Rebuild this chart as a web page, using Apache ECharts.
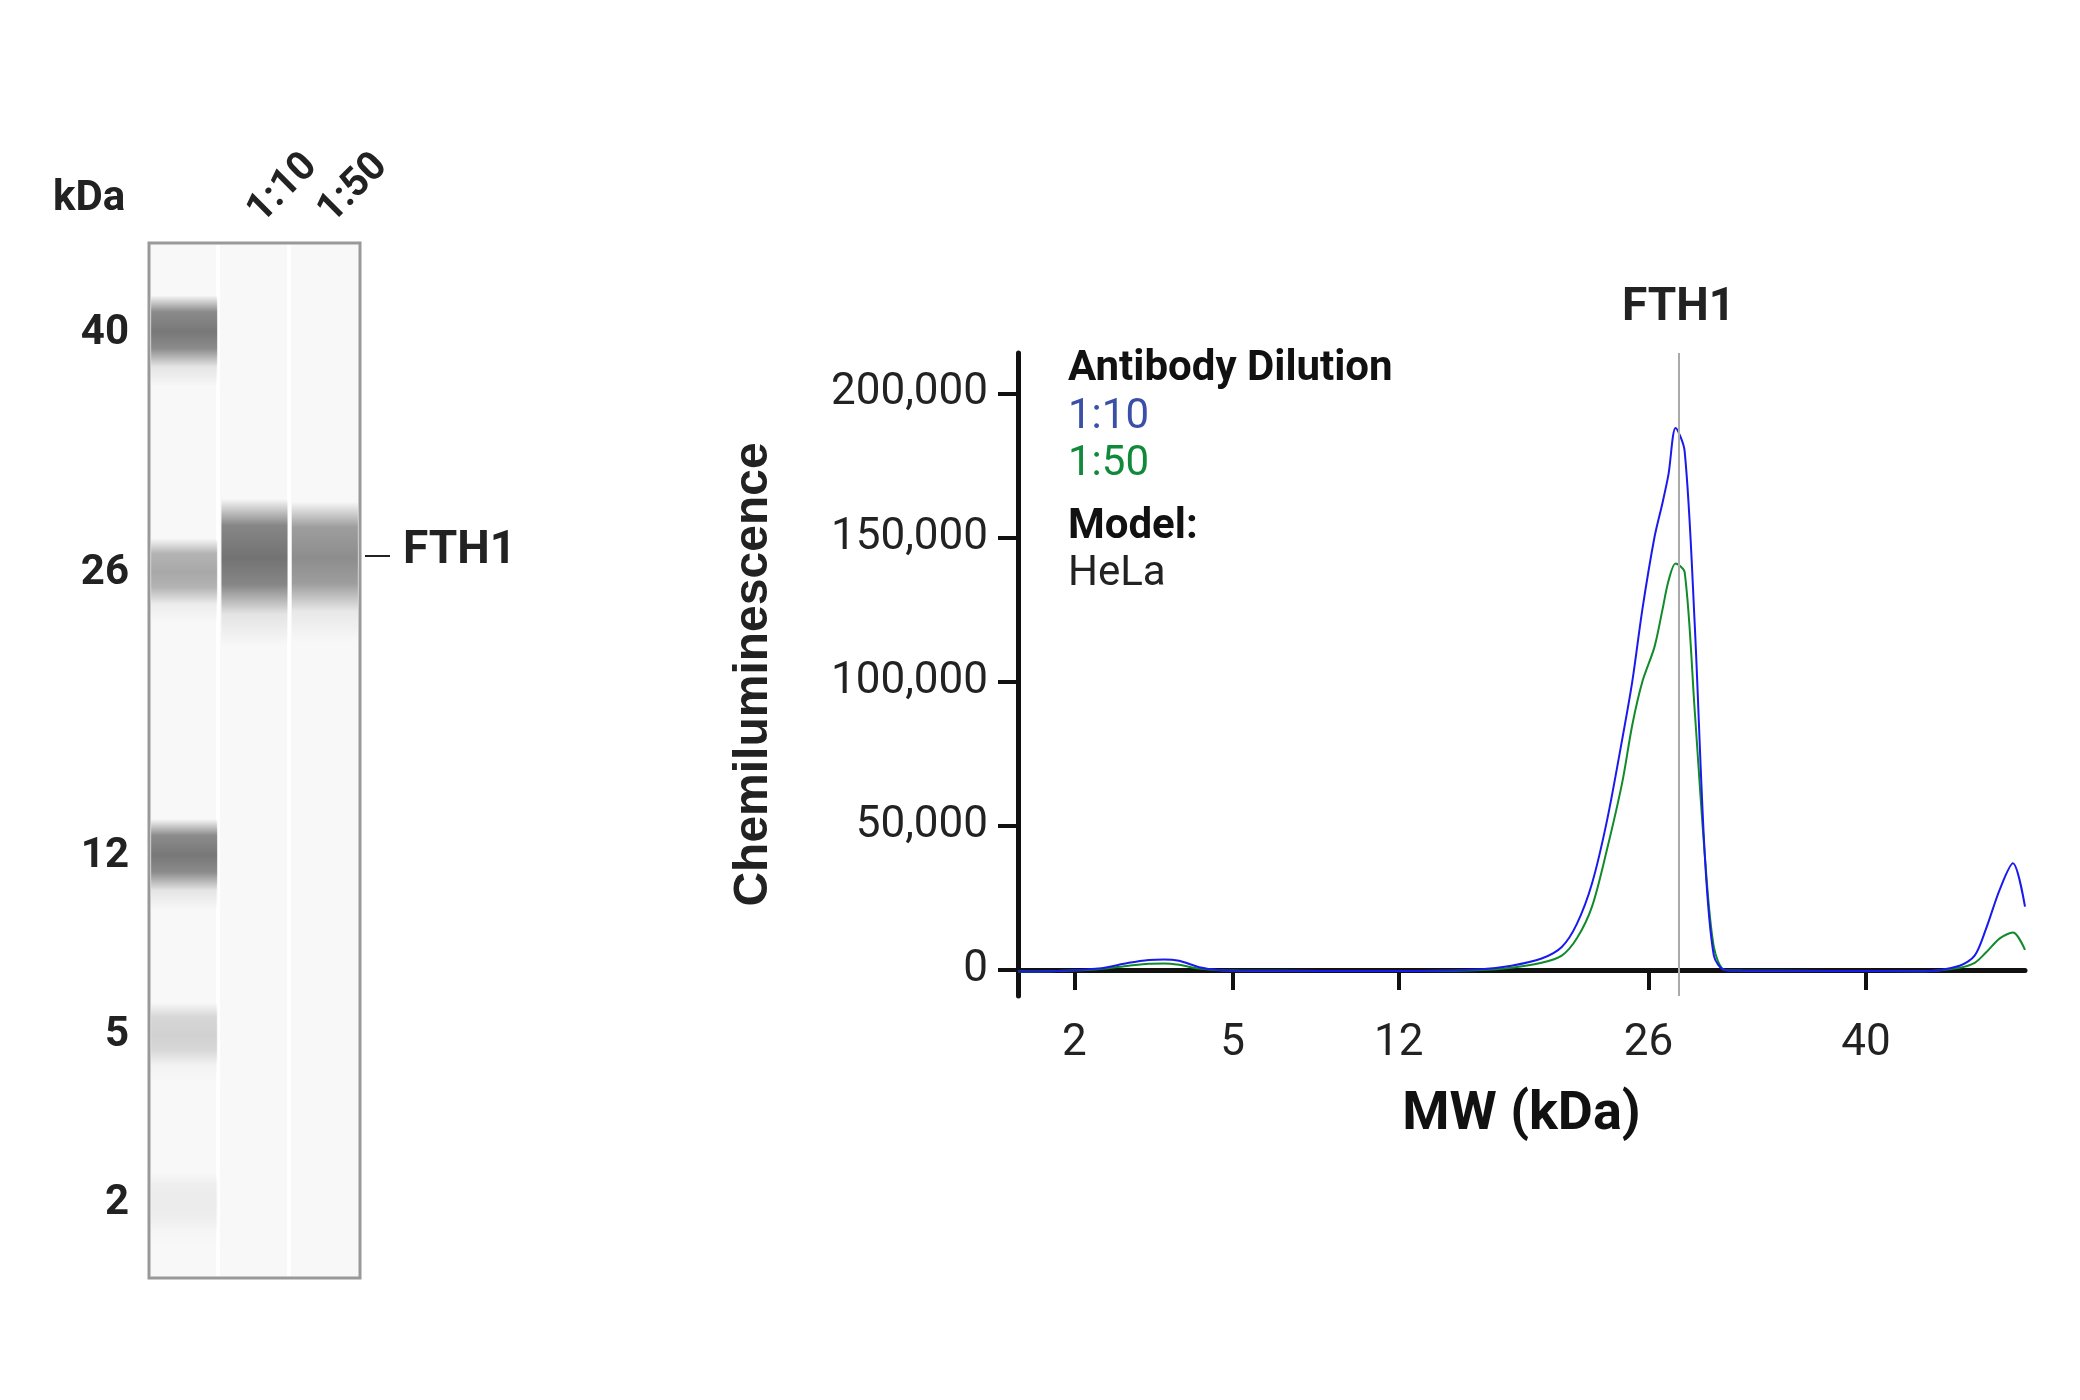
<!DOCTYPE html>
<html><head><meta charset="utf-8">
<script src="https://cdn.jsdelivr.net/npm/echarts@6/dist/echarts.min.js"></script>
<style>html,body{margin:0;background:#fff}#c{width:2080px;height:1400px}</style>
</head><body><div id="c"></div>
<script>
// Electropherogram: x in migration-position units (0..100), y chemiluminescence
const mwTickPos = [5.6, 21.3, 37.8, 62.6, 84.2];
const mwTickLabels = ['2', '5', '12', '26', '40'];
const yTicks = [0, 50000, 100000, 150000, 200000];
const posX = [0, 4, 8, 11, 13, 14.5, 16, 18, 20, 22, 30, 40, 46, 49, 52, 54, 55.5, 57, 58.5, 60, 61, 62, 63.2, 64, 64.6, 65.3, 66.2, 67.2, 68.2, 69.1, 70.2, 72, 80, 90, 93.5, 95, 96.1, 97.5, 98.8, 100];
const dil110 = [-500, -300, 500, 2500, 3500, 3700, 3200, 1000, 0, -200, -300, -300, 300, 1500, 4000, 8000, 16000, 30000, 52000, 80000, 100000, 125000, 150000, 162000, 172000, 188000, 180000, 120000, 40000, 5000, 0, -200, -300, -400, 1500, 5000, 14000, 28000, 37000, 22000];
const dil150 = [-500, -300, 300, 1500, 2200, 2300, 1800, 500, -100, -200, -300, -300, 0, 800, 2500, 5000, 11000, 22000, 42000, 65000, 85000, 100000, 112000, 125000, 135000, 141000, 138000, 90000, 40000, 8000, 0, -200, -300, -400, 800, 2500, 6000, 11000, 13000, 7000];
const peakPos = 65.6;
// Gel image: lanes and bands
const laneLabels = ['', '1:10', '1:50'];
const ladderKDa = ['40', '26', '12', '5', '2'];
const ladderPos = [8.7, 31.9, 59.3, 76.6, 92.8];
const ladderIntensity = [0.72, 0.45, 0.72, 0.22, 0.07];
const ladderHalf = [2.6, 2.4, 2.6, 2.3, 2.2];
const sampleLanes = [1, 2];
const samplePos = [30.6, 30.6];
const sampleHalf = [4.2, 4.0];
const sampleIntensity = [0.75, 0.6];

const bands = [];
ladderPos.forEach((p, i) => bands.push([0, p, ladderHalf[i], ladderIntensity[i]]));
sampleLanes.forEach((l, i) => bands.push([l, samplePos[i], sampleHalf[i], sampleIntensity[i]]));

const F = "'Liberation Sans Narrow','Roboto','Liberation Sans',sans-serif";
const chart = echarts.init(document.getElementById('c'));
chart.setOption({
  backgroundColor: '#fff',
  animation: false,
  grid: [
    {left: 1018, width: 1007, top: 353, height: 643},
    {left: 149, width: 211, top: 243, height: 1035}
  ],
  xAxis: [
    {gridIndex: 0, type: 'value', min: 0, max: 100,
     name: 'MW (kDa)', nameLocation: 'middle', nameGap: 92,
     nameTextStyle: {fontFamily: F, fontWeight: 'bold', fontSize: 54, color: '#111'},
     axisLine: {lineStyle: {color: '#111', width: 5}},
     axisTick: {customValues: mwTickPos, length: 20, inside: false, lineStyle: {color: '#111', width: 4}},
     axisLabel: {customValues: mwTickPos, formatter: v => mwTickLabels[mwTickPos.indexOf(v)] || '', fontFamily: F, fontSize: 44, color: '#222', margin: 26},
     splitLine: {show: false}},
    {gridIndex: 1, type: 'value', min: 0, max: 3, position: 'top',
     axisLine: {show: false}, axisTick: {show: false}, splitLine: {show: false},
     axisLabel: {customValues: [1.5, 2.5], formatter: v => laneLabels[Math.round(v - 0.5)], rotate: 45,
       fontFamily: F, fontWeight: 'bold', fontSize: 40, color: '#222', margin: 26}}
  ],
  yAxis: [
    {gridIndex: 0, type: 'value', min: -9000, max: 214000,
     name: 'Chemiluminescence', nameLocation: 'middle', nameGap: 240, nameRotate: 90,
     nameTextStyle: {fontFamily: "'Liberation Sans',sans-serif", fontWeight: 'bold', fontSize: 48, color: '#222'},
     axisLine: {show: true, lineStyle: {color: '#111', width: 5}},
     axisTick: {show: true, customValues: yTicks, length: 20, lineStyle: {color: '#111', width: 4}},
     axisLabel: {customValues: yTicks, formatter: v => v.toLocaleString('en-US'), fontFamily: F, fontSize: 44, color: '#222', margin: 30},
     splitLine: {show: false}},
    {gridIndex: 1, type: 'value', min: 0, max: 100, inverse: true,
     axisLine: {show: false}, axisTick: {show: false}, splitLine: {show: false},
     axisLabel: {customValues: ladderPos, formatter: v => ladderKDa[ladderPos.indexOf(v)] || '', fontFamily: F, fontWeight: 'bold', fontSize: 42, color: '#222', margin: 20}}
  ],
  series: [
    {type: 'line', xAxisIndex: 0, yAxisIndex: 0, data: posX.map((x, i) => [x, dil150[i]]), smooth: 0.3, showSymbol: false,
     lineStyle: {color: '#118a2a', width: 2}, z: 3},
    {type: 'line', xAxisIndex: 0, yAxisIndex: 0, data: posX.map((x, i) => [x, dil110[i]]), smooth: 0.3, showSymbol: false,
     lineStyle: {color: '#1a1aee', width: 2}, z: 4,
     markLine: {symbol: 'none', silent: true, label: {show: true, formatter: 'FTH1', position: 'end', fontFamily: F, fontWeight: 'bold', fontSize: 46, color: '#222', distance: 22},
       lineStyle: {color: '#aaa', type: 'solid', width: 2}, data: [{xAxis: peakPos}]}},
    {type: 'custom', xAxisIndex: 1, yAxisIndex: 1, data: bands,
     renderItem: (params, api) => {
       const lane = api.value(0), c = api.value(1), h = api.value(2), a = api.value(3);
       const p0 = api.coord([lane + 0.03, c - h * 1.4]);
       const p1 = api.coord([lane + 0.97, c + h * 2.0]);
       const col = o => 'rgba(70,70,70,' + o + ')';
       return {type: 'rect', shape: {x: p0[0], y: p0[1], width: p1[0] - p0[0], height: p1[1] - p0[1]},
         style: {fill: new echarts.graphic.LinearGradient(0, 0, 0, 1, [
           {offset: 0, color: col(0)}, {offset: 0.18, color: col(a * 0.85)}, {offset: 0.4, color: col(a)},
           {offset: 0.58, color: col(a * 0.85)}, {offset: 0.78, color: col(a * 0.15)}, {offset: 1, color: col(0)}])}};
     }}
  ],
  graphic: [
    {type: 'rect', shape: {x: 149, y: 243, width: 211, height: 1035}, style: {fill: '#f8f8f8', stroke: '#999', lineWidth: 3}, z: -1},
    {type: 'rect', shape: {x: 216, y: 245, width: 4, height: 1031}, style: {fill: '#fff'}, z: 0},
    {type: 'rect', shape: {x: 287, y: 245, width: 4, height: 1031}, style: {fill: '#fff'}, z: 0},
    {type: 'text', left: 53, top: 178, style: {text: 'kDa', fontFamily: F, fontWeight: 'bold', fontSize: 42, fill: '#222'}},
    {type: 'line', shape: {x1: 365, y1: 556, x2: 390, y2: 556}, style: {stroke: '#222', lineWidth: 2}},
    {type: 'text', left: 403, top: 528, style: {text: 'FTH1', fontFamily: F, fontWeight: 'bold', fontSize: 46, fill: '#222'}},
    {type: 'text', left: 1068, top: 348, style: {text: 'Antibody Dilution', fontFamily: F, fontWeight: 'bold', fontSize: 42, fill: '#111'}},
    {type: 'text', left: 1068, top: 396, style: {text: '1:10', fontFamily: F, fontSize: 42, fill: '#3a4fa8'}},
    {type: 'text', left: 1068, top: 443, style: {text: '1:50', fontFamily: F, fontSize: 42, fill: '#108a3a'}},
    {type: 'text', left: 1068, top: 506, style: {text: 'Model:', fontFamily: F, fontWeight: 'bold', fontSize: 42, fill: '#111'}},
    {type: 'text', left: 1068, top: 553, style: {text: 'HeLa', fontFamily: F, fontSize: 42, fill: '#222'}}
  ]
});
</script></body></html>
